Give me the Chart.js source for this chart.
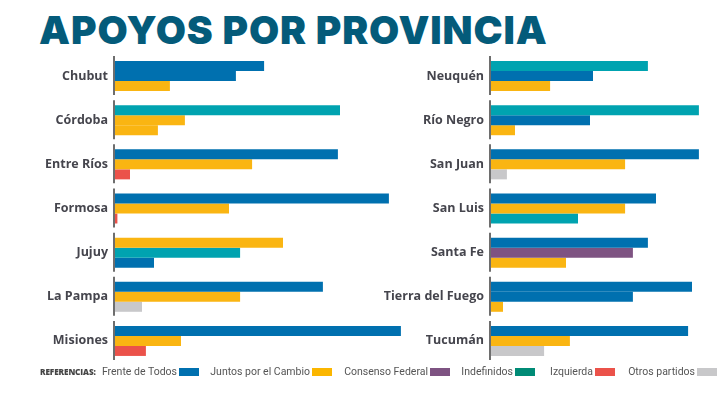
<!DOCTYPE html>
<html>
<head>
<meta charset="utf-8">
<script src="https://cdn.jsdelivr.net/npm/chart.js@4.4.1/dist/chart.umd.min.js"></script>
<style>
  body { margin: 0; background: #fff; width: 724px; height: 396px; overflow: hidden; position: relative; }
  #title { position: absolute; left: 39px; top: 10px; font-family: Inter, sans-serif; font-weight: 900;
           font-size: 39px; line-height: 39px; color: #045B7A; letter-spacing: 0.9px; white-space: nowrap; }
  #leftWrap { position: absolute; left: 0; top: 0; width: 420px; height: 396px; }
  #rightWrap { position: absolute; left: 370px; top: 0; width: 354px; height: 396px; }
  #legend { position: absolute; left: 0; top: 365px; width: 724px; height: 14px;
            font-family: Roboto, sans-serif; font-size: 10.5px; color: #555; }
  #legend span.item { position: absolute; top: 0; display: flex; align-items: center; white-space: nowrap; }
  #legend i { display: inline-block; width: 20px; height: 8px; margin-left: 2px; }
  #legend .ref { position: absolute; left: 40px; top: 1px; font-family: "Open Sans", sans-serif; font-weight: 800;
                 font-size: 8.2px; color: #444; letter-spacing: -0.1px; }
</style>
</head>
<body>
<div id="title">APOYOS POR PROVINCIA</div>
<div id="leftWrap"><canvas id="leftChart"></canvas></div>
<div id="rightWrap"><canvas id="rightChart"></canvas></div>
<div id="legend"><span class="ref">REFERENCIAS:</span></div>
<script>
// datos (largo relativo de cada barra)
var leftProvinces = ['Chubut', 'Córdoba', 'Entre Ríos', 'Formosa', 'Jujuy', 'La Pampa', 'Misiones'];
var leftBar1 = [49.7, 75, 74.3, 91.3, 56, 69.3, 95.3];
var leftBar2 = [40.3, 23.3, 45.7, 38, 41.7, 41.7, 22];
var leftBar3 = [18.3, 14.3, 5, 0.8, 13, 9, 10.3];
var leftParty1 = ['fdt', 'ind', 'fdt', 'fdt', 'jxc', 'fdt', 'fdt'];
var leftParty2 = ['fdt', 'jxc', 'jxc', 'jxc', 'ind', 'jxc', 'jxc'];
var leftParty3 = ['jxc', 'jxc', 'izq', 'izq', 'fdt', 'otros', 'izq'];

var rightProvinces = ['Neuquén', 'Río Negro', 'San Juan', 'San Luis', 'Santa Fe', 'Tierra del Fuego', 'Tucumán'];
var rightBar1 = [52.3, 69.3, 69.3, 55, 52.3, 67, 65.7];
var rightBar2 = [34, 33, 44.7, 44.7, 47.3, 47.3, 26.3];
var rightBar3 = [19.7, 8, 5.3, 29, 25, 4, 17.7];
var rightParty1 = ['ind', 'ind', 'fdt', 'fdt', 'fdt', 'fdt', 'fdt'];
var rightParty2 = ['fdt', 'fdt', 'jxc', 'jxc', 'cf', 'fdt', 'jxc'];
var rightParty3 = ['jxc', 'jxc', 'otros', 'ind', 'jxc', 'jxc', 'otros'];

var legendLabels = ['Frente de Todos', 'Juntos por el Cambio', 'Consenso Federal', 'Indefinidos', 'Izquierda', 'Otros partidos'];
var legendColors = ['#0070AF', '#FBB600', '#7E5382', '#008B76', '#EB524A', '#C8C8CA'];
var legendSwatchX = [179, 312, 430, 515, 595, 697];

var partyColors = {
    fdt: '#0070AF',
    jxc: '#FAB512',
    cf: '#7E5382',
    ind: '#00A3B0',
    izq: '#EB524A',
    otros: '#C8C8CA'
};

function colorsFor(parties) {
    return parties.map(function(p) { return partyColors[p]; });
}

// línea gris del eje, cortada por provincia
var axisSegments = {
    id: 'axisSegments',
    afterDatasetsDraw: function(chart) {
        var ctx = chart.ctx;
        var x0 = chart.scales.x.getPixelForValue(0);
        ctx.save();
        ctx.strokeStyle = '#6E6E6E';
        ctx.lineWidth = 2;
        chart.data.labels.forEach(function(l, i) {
            var y = chart.scales.y.getPixelForValue(i);
            ctx.beginPath();
            ctx.moveTo(x0 - 1, y - 20);
            ctx.lineTo(x0 - 1, y + 19);
            ctx.stroke();
        });
        ctx.restore();
    }
};

function makeChart(id, labels, b1, b2, b3, p1, p2, p3, xMax, axisWidth, padRight) {
    var ctx = document.getElementById(id).getContext('2d');
    return new Chart(ctx, {
        type: 'bar',
        data: {
            labels: labels,
            datasets: [
                { data: b1, backgroundColor: colorsFor(p1) },
                { data: b2, backgroundColor: colorsFor(p2) },
                { data: b3, backgroundColor: colorsFor(p3) }
            ]
        },
        options: {
            indexAxis: 'y',
            responsive: true,
            maintainAspectRatio: false,
            animation: false,
            datasets: {
                bar: { categoryPercentage: 0.68, barPercentage: 1.0, borderWidth: 0 }
            },
            layout: { padding: { top: 54, bottom: 33, right: padRight, left: 0 } },
            plugins: {
                legend: { display: false },
                tooltip: { enabled: true }
            },
            scales: {
                x: { display: false, min: 0, max: xMax },
                y: {
                    grid: { display: false, drawTicks: false },
                    border: { display: false },
                    ticks: {
                        color: '#45454D',
                        padding: 7,
                        font: { family: 'Open Sans', weight: 'bold', size: 12.5 }
                    },
                    afterFit: function(scale) { scale.width = axisWidth; }
                }
            }
        },
        plugins: [axisSegments]
    });
}

makeChart('leftChart', leftProvinces, leftBar1, leftBar2, leftBar3, leftParty1, leftParty2, leftParty3, 100, 115, 5);
makeChart('rightChart', rightProvinces, rightBar1, rightBar2, rightBar3, rightParty1, rightParty2, rightParty3, 74, 121, 11);

// leyenda: texto primero, cuadrito después
var legend = document.getElementById('legend');
legendLabels.forEach(function(name, i) {
    var item = document.createElement('span');
    item.className = 'item';
    item.style.right = (724 - legendSwatchX[i] - 20) + 'px';
    item.innerHTML = name + '<i style="background:' + legendColors[i] + '"></i>';
    legend.appendChild(item);
});
</script>
</body>
</html>
